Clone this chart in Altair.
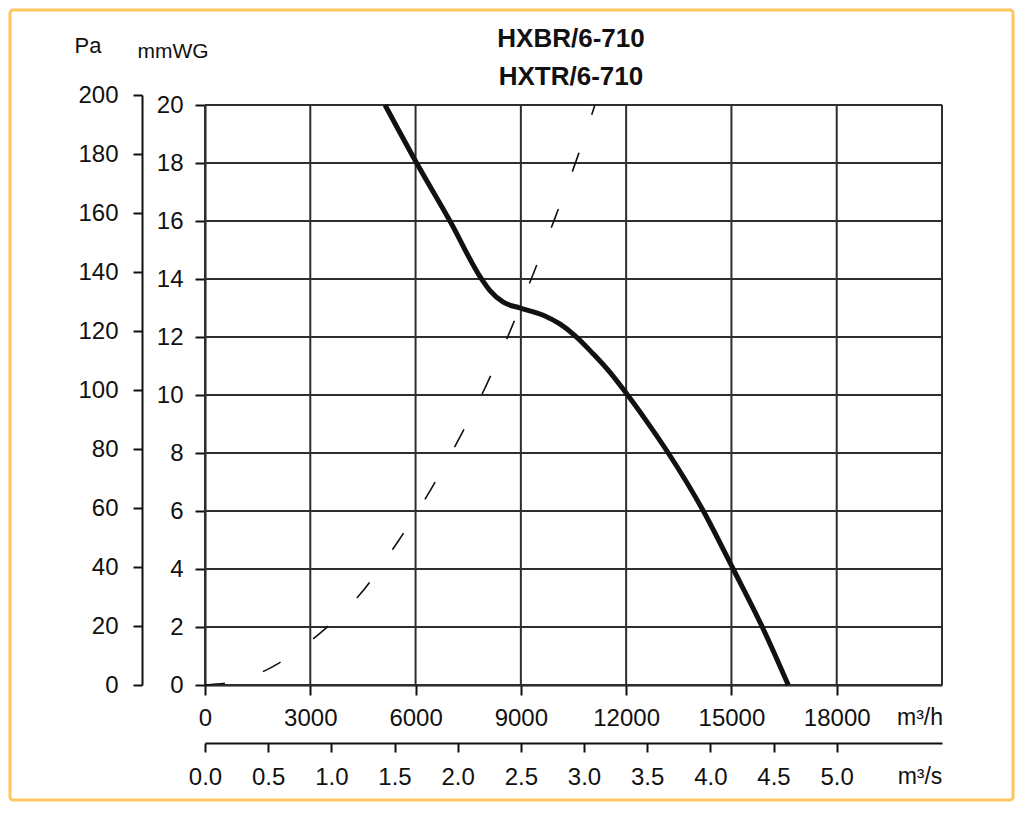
import altair as alt
import pandas as pd

# ---------------- data ----------------
title_lines = ["HXBR/6-710", "HXTR/6-710"]

# fan curve (m3/h , mmWG)
fan_q = [5130, 6030, 6980, 7880, 8120, 8500, 8975, 9640,
         10110, 10540, 11060, 11540, 12010, 12580, 13200, 14200, 15050, 15900, 16620]
fan_p = [20.0, 18.0, 16.0, 14.0, 13.6, 13.2, 13.0, 12.75,
         12.45, 12.05, 11.42, 10.78, 10.05, 9.1, 8.0, 6.0, 4.0, 1.95, 0.0]

# system (dashed) curve
sys_q = [0, 1000, 1880, 3280, 4400, 5500, 6420, 7250, 8000, 8720, 9360, 9990, 10580, 11110]
sys_p = [0, 0.16, 0.6, 1.79, 3.1, 4.95, 6.71, 8.52, 10.3, 12.28, 14.2, 16.16, 18.09, 20.0]

grid_q = [0, 3000, 6000, 9000, 12000, 15000, 18000, 21000]
grid_p = [0, 2, 4, 6, 8, 10, 12, 14, 16, 18, 20]
q_ticks = [0, 3000, 6000, 9000, 12000, 15000, 18000]
ms_ticks = [0.0, 0.5, 1.0, 1.5, 2.0, 2.5, 3.0, 3.5, 4.0, 4.5, 5.0]
pa_ticks = [0, 20, 40, 60, 80, 100, 120, 140, 160, 180, 200]

Q_MAX = 21000
P_MAX = 20
PA_MAX = 200

# ---------------- layout ----------------
W, H = 737, 580
FONT = "Liberation Sans, Arial, sans-serif"
INK = "#111111"
GRID = "#2e2e2e"
LBL = 24

x_scale = alt.Scale(domain=[0, Q_MAX], nice=False, zero=False)
y_scale = alt.Scale(domain=[0, P_MAX], nice=False, zero=False)

q_axis = alt.Axis(values=q_ticks, format="d", title=None, grid=False, orient="bottom",
                  tickSize=10, tickWidth=2, tickColor=INK, domain=True, domainColor=INK,
                  domainWidth=2, labelFont=FONT, labelFontSize=LBL, labelColor=INK,
                  labelPadding=11, labelFlush=False, labelOverlap=False)
p_axis = alt.Axis(values=grid_p, format="d", title=None, grid=False, orient="left",
                  tickSize=10, tickWidth=2, tickColor=INK, domain=True, domainColor=INK,
                  domainWidth=2, labelFont=FONT, labelFontSize=LBL, labelColor=INK,
                  labelPadding=12, labelFlush=False, labelOverlap=False)

X = alt.X("q:Q", scale=x_scale, axis=q_axis)
Y = alt.Y("p:Q", scale=y_scale, axis=p_axis)

vgrid = alt.Chart(pd.DataFrame({"q": grid_q})).mark_rule(
    color=GRID, strokeWidth=2).encode(x=X)
hgrid = alt.Chart(pd.DataFrame({"p": grid_p})).mark_rule(
    color=GRID, strokeWidth=2).encode(y=Y)

sys_line = alt.Chart(pd.DataFrame({"q": sys_q, "p": sys_p})).mark_line(
    color=INK, strokeWidth=1.6, strokeDash=[20, 40], interpolate="monotone").encode(
    x=X, y=Y, order=alt.Order("q:Q"))

fan_line = alt.Chart(pd.DataFrame({"q": fan_q, "p": fan_p})).mark_line(
    color=INK, strokeWidth=5, interpolate="monotone", strokeCap="butt").encode(
    x=X, y=Y, order=alt.Order("q:Q"))

inner = alt.layer(vgrid, hgrid, sys_line, fan_line)

# second x axis in m3/s
ms_axis = alt.Axis(values=ms_ticks, format=".1f", title=None, grid=False, orient="bottom",
                   offset=58, tickSize=9, tickWidth=2, tickColor=INK, domain=True,
                   domainColor=INK, domainWidth=2, labelFont=FONT, labelFontSize=LBL,
                   labelColor=INK, labelPadding=13, labelFlush=False, labelOverlap=False)
ms_layer = alt.Chart(pd.DataFrame({"ms": ms_ticks})).mark_point(opacity=0).encode(
    x=alt.X("ms:Q", scale=alt.Scale(domain=[0, Q_MAX / 3600], nice=False, zero=False),
            axis=ms_axis))

# second y axis in Pa
pa_axis = alt.Axis(values=pa_ticks, format="d", title=None, grid=False, orient="left",
                   offset=63, tickSize=9, tickWidth=2, tickColor=INK, domain=True,
                   domainColor=INK, domainWidth=2, labelFont=FONT, labelFontSize=LBL,
                   labelColor=INK, labelPadding=15, labelFlush=False, labelOverlap=False)
pa_layer = alt.Chart(pd.DataFrame({"pa": pa_ticks})).mark_point(opacity=0).encode(
    y=alt.Y("pa:Q", scale=alt.Scale(domain=[0, PA_MAX], range=[H, -10], nice=False, zero=False),
            axis=pa_axis))


def label(text, x, y, size, weight="normal", align="center"):
    return alt.Chart(pd.DataFrame({"t": [text]})).mark_text(
        font=FONT, fontSize=size, fontWeight=weight, color=INK, align=align,
        baseline="middle").encode(x=alt.value(x), y=alt.value(y), text="t:N")


title1 = label(title_lines[0], 366, -66, 26, "bold")
title2 = label(title_lines[1], 366, -28, 26, "bold")
pa_title = label("Pa", -117, -59, 22)
mm_title = label("mmWG", -32, -53, 21)
qh_unit = label("m³/h", 715, 613, 23)
qs_unit = label("m³/s", 715, 672, 23)

frame = alt.Chart(pd.DataFrame({"a": [0]})).mark_rect(
    fillOpacity=0, stroke="#FFC65C", strokeWidth=3, cornerRadius=3).encode(
    x=alt.value(-195), x2=alt.value(808), y=alt.value(-95), y2=alt.value(695))

chart = alt.layer(
    inner, ms_layer, pa_layer, title1, title2, pa_title, mm_title, qh_unit, qs_unit, frame
).resolve_scale(x="independent", y="independent").properties(
    width=W, height=H,
    padding={"left": 197, "top": 97, "right": 74, "bottom": 119},
    autosize=alt.AutoSizeParams(type="none"),
    background="white",
).configure_view(stroke=None)

chart.save("out.html", embed_options={"renderer": "svg", "actions": False})
